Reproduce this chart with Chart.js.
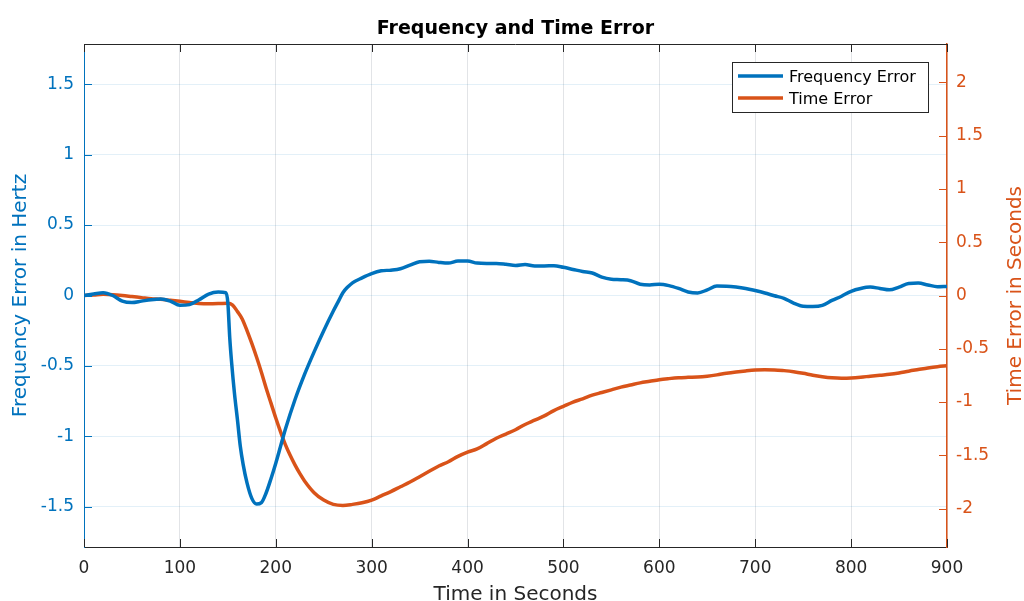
<!DOCTYPE html>
<html>
<head>
<meta charset="utf-8">
<script src="https://cdn.jsdelivr.net/npm/chart.js@4"></script>
<style>
  body { margin: 0; background: #fff; }
  #wrap { width: 1024px; height: 601px; }
</style>
</head>
<body>
<div id="wrap"><canvas id="errChart" width="1024" height="601"></canvas></div>
<script>
// values
const freqTime = [0, 10, 20, 30, 40, 50, 60, 70, 80, 90, 100, 110, 120, 130, 140, 148,
    150, 152, 154, 157, 160, 163, 166, 170, 175, 180, 185, 190, 195, 200, 205, 210,
    220, 230, 240, 250, 260, 265, 270, 275, 280, 290, 300, 310, 320, 330, 340, 350, 360, 370,
    380, 390, 400, 410, 420, 430, 440, 450, 460, 470, 480, 490, 500, 510, 520, 530,
    540, 550, 560, 570, 580, 590, 600, 610, 620, 630, 640, 650, 660, 670, 680, 690,
    700, 710, 720, 730, 740, 750, 760, 770, 780, 790, 800, 810, 820, 830, 840, 850,
    860, 870, 880, 890, 900];
const freqError = [0, 0.01, 0.02, 0.0, -0.04, -0.05, -0.04, -0.03, -0.025, -0.04, -0.07, -0.065, -0.03, 0.01, 0.024, 0.02,
    -0.05, -0.3, -0.48, -0.7, -0.88, -1.07, -1.2, -1.33, -1.44, -1.48, -1.47, -1.4, -1.3, -1.19, -1.07, -0.95,
    -0.74, -0.56, -0.4, -0.25, -0.11, -0.045, 0.02, 0.06, 0.09, 0.125, 0.155, 0.175, 0.18, 0.19, 0.215, 0.24, 0.243, 0.235,
    0.23, 0.245, 0.245, 0.23, 0.228, 0.228, 0.222, 0.213, 0.22, 0.21, 0.21, 0.212, 0.2, 0.185, 0.17, 0.16,
    0.13, 0.115, 0.112, 0.105, 0.08, 0.075, 0.08, 0.07, 0.05, 0.025, 0.018, 0.04, 0.067, 0.066, 0.06, 0.05,
    0.035, 0.018, -0.002, -0.02, -0.054, -0.076, -0.078, -0.07, -0.035, -0.005, 0.03, 0.05, 0.06, 0.05, 0.04, 0.06,
    0.085, 0.088, 0.075, 0.062, 0.064];

const errTime = [0, 10, 20, 30, 40, 50, 60, 70, 80, 90, 100, 110, 120, 130, 140, 150,
    155, 160, 165, 170, 175, 180, 185, 190, 195, 200, 205, 210, 215, 220, 225, 230,
    240, 250, 260, 270, 280, 290, 300, 310, 320, 330, 340, 350, 360, 370, 380, 390,
    400, 410, 420, 430, 440, 450, 460, 470, 480, 490, 500, 510, 520, 530, 540, 550,
    560, 570, 580, 590, 600, 610, 620, 630, 640, 650, 660, 670, 680, 690, 700, 710,
    720, 730, 740, 750, 760, 770, 780, 790, 800, 810, 820, 830, 840, 850, 860, 870,
    880, 890, 900];
const timeError = [0, 0.005, 0.012, 0.008, 0.0, -0.01, -0.02, -0.03, -0.035, -0.045, -0.055, -0.065, -0.075, -0.078, -0.076, -0.072,
    -0.09, -0.15, -0.22, -0.33, -0.45, -0.58, -0.72, -0.87, -1.01, -1.15, -1.28, -1.4, -1.5, -1.59, -1.67, -1.74,
    -1.85, -1.92, -1.96, -1.97, -1.96, -1.945, -1.92, -1.88, -1.84, -1.795, -1.75, -1.7, -1.65, -1.6, -1.56, -1.51,
    -1.47, -1.44, -1.39, -1.34, -1.3, -1.26, -1.21, -1.17, -1.13, -1.08, -1.04, -1.0, -0.97, -0.935, -0.91, -0.885,
    -0.86, -0.84, -0.82, -0.805, -0.79, -0.78, -0.772, -0.768, -0.765, -0.757, -0.745, -0.73, -0.718, -0.708, -0.7, -0.697,
    -0.698, -0.705, -0.715, -0.73, -0.748, -0.762, -0.772, -0.776, -0.774, -0.767, -0.757, -0.748, -0.74, -0.727, -0.71, -0.695,
    -0.68, -0.668, -0.66];

const xTicks = [0, 100, 200, 300, 400, 500, 600, 700, 800, 900];
const freqTicks = [-1.5, -1, -0.5, 0, 0.5, 1, 1.5];
const errTicks = [-2, -1.5, -1, -0.5, 0, 0.5, 1, 1.5, 2];

const BLUE = '#0072BD';
const ORANGE = '#D95319';
const DARK = '#262626';
const FONT = "'DejaVu Sans', sans-serif";

function toPoints(xs, ys) {
    return xs.map((x, i) => ({ x: x, y: ys[i] }));
}

// inward tick marks, top box edge, titles and legend, MATLAB style
const decorPlugin = {
    id: 'decor',
    afterDraw(chart) {
        const ctx = chart.ctx;
        const area = chart.chartArea;
        const sx = chart.scales.x, sl = chart.scales.yFreq, sr = chart.scales.yErr;
        const len = 8;
        ctx.save();
        ctx.lineWidth = 1;

        ctx.strokeStyle = DARK;
        ctx.beginPath();
        ctx.moveTo(area.left, area.top + 0.5);
        ctx.lineTo(area.right, area.top + 0.5);
        xTicks.forEach(v => {
            const px = Math.round(sx.getPixelForValue(v)) + 0.5;
            ctx.moveTo(px, area.top);
            ctx.lineTo(px, area.top + len);
            ctx.moveTo(px, area.bottom);
            ctx.lineTo(px, area.bottom - len);
        });
        ctx.stroke();

        ctx.strokeStyle = BLUE;
        ctx.beginPath();
        freqTicks.forEach(v => {
            const py = Math.round(sl.getPixelForValue(v)) + 0.5;
            ctx.moveTo(area.left, py);
            ctx.lineTo(area.left + len, py);
        });
        ctx.stroke();

        ctx.strokeStyle = ORANGE;
        ctx.beginPath();
        errTicks.forEach(v => {
            const py = Math.round(sr.getPixelForValue(v)) + 0.5;
            ctx.moveTo(area.right, py);
            ctx.lineTo(area.right - len, py);
        });
        ctx.stroke();

        // title
        ctx.fillStyle = '#000';
        ctx.font = 'bold 19px ' + FONT;
        ctx.textAlign = 'center';
        ctx.textBaseline = 'alphabetic';
        ctx.fillText('Frequency and Time Error', (area.left + area.right) / 2, 34);

        // axis titles
        ctx.font = '20px ' + FONT;
        ctx.fillStyle = DARK;
        ctx.fillText('Time in Seconds', (area.left + area.right) / 2, 600);

        ctx.save();
        ctx.translate(26, (area.top + area.bottom) / 2);
        ctx.rotate(-Math.PI / 2);
        ctx.fillStyle = BLUE;
        ctx.fillText('Frequency Error in Hertz', 0, 0);
        ctx.restore();

        ctx.save();
        ctx.translate(1021, (area.top + area.bottom) / 2);
        ctx.rotate(-Math.PI / 2);
        ctx.fillStyle = ORANGE;
        ctx.fillText('Time Error in Seconds', 0, 0);
        ctx.restore();

        // legend box
        const bx = 732, by = 62, bw = 196, bh = 50;
        ctx.fillStyle = '#fff';
        ctx.fillRect(bx, by, bw, bh);
        ctx.strokeStyle = DARK;
        ctx.strokeRect(bx + 0.5, by + 0.5, bw, bh);
        ctx.font = '16px ' + FONT;
        ctx.textAlign = 'left';
        chart.data.datasets.forEach((ds, i) => {
            const ly = 76 + i * 22;
            ctx.strokeStyle = ds.borderColor;
            ctx.lineWidth = 3.5;
            ctx.beginPath();
            ctx.moveTo(738, ly);
            ctx.lineTo(783, ly);
            ctx.stroke();
            ctx.fillStyle = '#000';
            ctx.fillText(ds.label, 789, ly + 6);
        });
        ctx.restore();
    }
};

new Chart(document.getElementById('errChart'), {
    type: 'line',
    data: {
        datasets: [{
            label: 'Frequency Error',
            data: toPoints(freqTime, freqError),
            yAxisID: 'yFreq',
            borderColor: BLUE,
            borderWidth: 3.5,
            pointRadius: 0,
            cubicInterpolationMode: 'monotone'
        }, {
            label: 'Time Error',
            data: toPoints(errTime, timeError),
            yAxisID: 'yErr',
            borderColor: ORANGE,
            borderWidth: 3.5,
            pointRadius: 0,
            cubicInterpolationMode: 'monotone'
        }]
    },
    options: {
        responsive: false,
        animation: false,
        layout: { padding: { top: 44, left: 0, right: 0, bottom: 0 } },
        plugins: {
            legend: { display: false },
            title: { display: false },
            tooltip: { enabled: false }
        },
        scales: {
            x: {
                type: 'linear',
                min: 0,
                max: 900,
                afterBuildTicks: s => { s.ticks = xTicks.map(v => ({ value: v })); },
                afterFit: s => { s.height = 54; },
                grid: { color: '#e2e4e7', drawTicks: false },
                border: { color: DARK, width: 1 },
                ticks: {
                    color: DARK,
                    font: { family: FONT, size: 17 },
                    padding: 11,
                    maxRotation: 0,
                    callback: v => String(v)
                }
            },
            yFreq: {
                type: 'linear',
                position: 'left',
                min: -1.785,
                max: 1.785,
                afterBuildTicks: s => { s.ticks = freqTicks.map(v => ({ value: v })); },
                afterFit: s => { s.width = 84; },
                grid: { color: 'rgba(0, 114, 189, 0.11)', drawTicks: false },
                border: { color: BLUE, width: 1 },
                ticks: {
                    color: BLUE,
                    font: { family: FONT, size: 17 },
                    padding: 10,
                    callback: v => String(v)
                }
            },
            yErr: {
                type: 'linear',
                position: 'right',
                min: -2.36,
                max: 2.36,
                afterBuildTicks: s => { s.ticks = errTicks.map(v => ({ value: v })); },
                afterFit: s => { s.width = 77; },
                grid: { display: false, drawTicks: false },
                border: { color: ORANGE, width: 1.5 },
                ticks: {
                    color: ORANGE,
                    font: { family: FONT, size: 17 },
                    padding: 9,
                    callback: v => String(v)
                }
            }
        }
    },
    plugins: [decorPlugin]
});
</script>
</body>
</html>
